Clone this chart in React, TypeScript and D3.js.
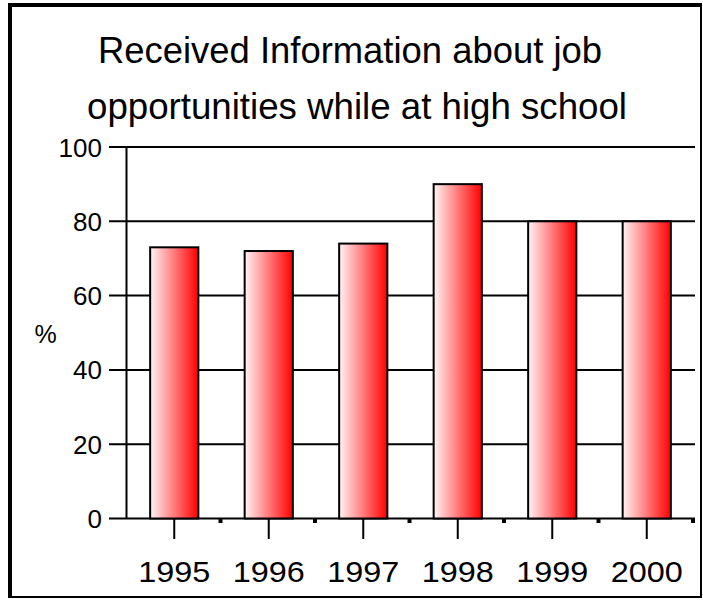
import React from "react";
import * as d3 from "d3";

const years = ["1995", "1996", "1997", "1998", "1999", "2000"];
const values = [73, 72, 74, 90, 80, 80];
const yTicks = [0, 20, 40, 60, 80, 100];
const titleLines = ["Received Information about job", "opportunities while at high school"];
const yLabel = "%";

export default function App() {
  const W = 703, H = 601;
  const x = d3.scaleBand<string>().domain(years).range([127, 694]).paddingInner(0.49).paddingOuter(0.245);
  const y = d3.scaleLinear().domain([0, 100]).range([518.5, 147]);
  const step = x.step();
  const font = "'Liberation Sans', Arial, Helvetica, sans-serif";
  return (
    <svg width={W} height={H} style={{ position: "absolute", left: 0, top: 0, background: "#fff" }} fontFamily={font}>
      <defs>
        <linearGradient id="barGrad" x1="0" x2="1" y1="0" y2="0">
          <stop offset="0" stopColor="#fff4f4" />
          <stop offset="1" stopColor="#ff0000" />
        </linearGradient>
      </defs>
      {/* outer frame */}
      <line x1={10} x2={10} y1={3} y2={598} stroke="#000" strokeWidth={4} />
      <line x1={8} x2={702} y1={5} y2={5} stroke="#000" strokeWidth={4} />
      <line x1={701} x2={701} y1={3} y2={598} stroke="#000" strokeWidth={2} />
      <line x1={8} x2={702} y1={597} y2={597} stroke="#000" strokeWidth={2} />
      {/* title */}
      <text x={350} y={63} fontSize={36} textAnchor="middle" textLength={504} lengthAdjust="spacingAndGlyphs" fill="#000">{titleLines[0]}</text>
      <text x={357} y={119} fontSize={36} textAnchor="middle" textLength={540} lengthAdjust="spacingAndGlyphs" fill="#000">{titleLines[1]}</text>
      {/* gridlines */}
      {yTicks.map((t) => (
        <g key={t}>
          <line x1={109} x2={695} y1={y(t)} y2={y(t)} stroke="#000" strokeWidth={2} />
          <text x={102} y={y(t) + 9.5} fontSize={26} textAnchor="end" fill="#000">{t}</text>
        </g>
      ))}
      <text x={45.5} y={343} fontSize={25} textAnchor="middle" fill="#000">{yLabel}</text>
      {/* y axis */}
      <line x1={126.5} x2={126.5} y1={y(100)} y2={y(0)} stroke="#000" strokeWidth={2} />
      {/* boundary minor ticks */}
      {years.map((yr, i) => (
        <line key={"m" + yr} x1={127 + step * (i + 1) - 1} x2={127 + step * (i + 1) - 1} y1={y(0)} y2={y(0) + 4.5} stroke="#000" strokeWidth={4} />
      ))}
      {/* bars */}
      {years.map((yr, i) => (
        <rect key={yr} x={x(yr)!} y={y(values[i])} width={x.bandwidth()} height={y(0) - y(values[i])} fill="url(#barGrad)" stroke="#000" strokeWidth={2} />
      ))}
      {/* category ticks and labels */}
      {years.map((yr) => {
        const cx = x(yr)! + x.bandwidth() / 2;
        return (
          <g key={"t" + yr}>
            <line x1={cx} x2={cx} y1={y(0)} y2={539} stroke="#000" strokeWidth={2} />
            <text x={cx} y={582} fontSize={30} textAnchor="middle" textLength={72} lengthAdjust="spacingAndGlyphs" fill="#000">{yr}</text>
          </g>
        );
      })}
    </svg>
  );
}
